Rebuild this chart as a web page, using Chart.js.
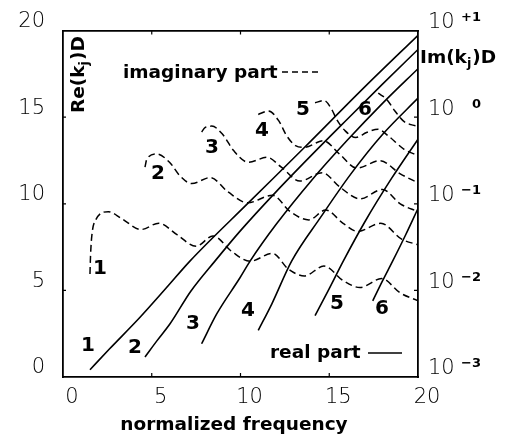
<!DOCTYPE html>
<html>
<head>
<meta charset="utf-8">
<script src="https://cdn.jsdelivr.net/npm/chart.js@4"></script>
<style>
  html, body { margin: 0; padding: 0; background: #fff; }
  #chart { display: block; }
</style>
</head>
<body>
<canvas id="chart" width="505" height="441"></canvas>
<script>
// axis ticks
const freq_ticks = [0, 5, 10, 15, 20];
const re_ticks = [0, 5, 10, 15, 20];
const im_ticks = [0.001, 0.01, 0.1, 1, 10];
const im_tick_powers = ['\u22123', '\u22122', '\u22121', '0', '+1'];

// real part Re(k_j)D of each mode, [normalized frequency, value]
const real_1 = [[1.52, 0.42], [2.6, 1.6], [4.34, 3.45], [5.8, 5.12], [7.15, 6.69], [10.44, 10.05], [13.6, 13.25], [17.0, 16.75], [20, 19.73]];
const real_2 = [[4.62, 1.16], [5.3, 2.1], [6.03, 3.07], [7.2, 4.95], [8.56, 6.69], [10, 8.45], [12, 10.69], [14, 12.81], [16, 14.87], [18, 16.91], [20, 18.91]];
const real_3 = [[7.81, 1.92], [8.66, 3.64], [9.97, 5.73], [10.54, 6.69], [12, 8.8], [14, 11.35], [16, 13.65], [18, 15.8], [20, 17.8]];
const real_4 = [[11.0, 2.69], [11.76, 4.21], [12.88, 6.69], [14.5, 9.2], [16.2, 11.7], [18.0, 14.0], [20, 16.1]];
const real_5 = [[14.2, 3.54], [15.0, 5.1], [15.79, 6.69], [17.0, 8.95], [18.5, 11.45], [20, 13.73]];
const real_6 = [[17.45, 4.4], [18.0, 5.55], [18.57, 6.69], [19.3, 8.2], [20, 9.73]];

// imaginary part Im(k_j)D of each mode, [normalized frequency, value]
const imag_1 = [[1.52, 0.0155], [1.55, 0.0248], [1.62, 0.042], [1.85, 0.0656], [2.55, 0.0811], [3.3, 0.0675], [4.4, 0.0505], [5.4, 0.0598], [6.4, 0.0443], [7.5, 0.0323], [8.45, 0.0426], [9.5, 0.0282], [10.54, 0.0217], [11.8, 0.0268], [12.7, 0.0176], [13.6, 0.0147], [14.7, 0.0191], [15.8, 0.0129], [16.73, 0.0108], [17.95, 0.0137], [19.0, 0.00935], [20, 0.00759]];
const imag_2 = [[4.62, 0.265], [4.72, 0.327], [5.28, 0.376], [6.0, 0.302], [6.6, 0.209], [7.25, 0.171], [8.3, 0.201], [9.3, 0.137], [10.4, 0.1026], [11.8, 0.1256], [12.8, 0.0811], [13.85, 0.0652], [14.8, 0.0847], [15.8, 0.059], [16.6, 0.0479], [17.9, 0.0596], [19.1, 0.0388], [20, 0.0337]];
const imag_3 = [[7.81, 0.675], [8.0, 0.759], [8.38, 0.789], [9.0, 0.631], [9.6, 0.414], [10.44, 0.302], [11.5, 0.344], [12.3, 0.265], [13.35, 0.183], [14.6, 0.229], [15.6, 0.156], [16.73, 0.114], [18.0, 0.1466], [19.0, 0.1], [20, 0.0811]];
const imag_4 = [[11.0, 1.076], [11.57, 1.178], [12.15, 0.912], [12.6, 0.61], [13.1, 0.47], [13.6, 0.448], [14.66, 0.535], [15.6, 0.372], [16.55, 0.258], [17.86, 0.315], [19.0, 0.222], [20, 0.175]];
const imag_5 = [[14.2, 1.466], [14.7, 1.563], [15.14, 1.23], [15.42, 0.944], [15.9, 0.695], [16.5, 0.583], [17.1, 0.665], [17.75, 0.726], [18.3, 0.615], [19.2, 0.429], [20, 0.36]];
const imag_6 = [[17.76, 1.9], [18.24, 1.6], [18.7, 1.18], [19.17, 0.906], [19.6, 0.82], [20, 0.79]];

const real_parts = [real_1, real_2, real_3, real_4, real_5, real_6];
const imag_parts = [imag_1, imag_2, imag_3, imag_4, imag_5, imag_6];
const mode_names = ['1', '2', '3', '4', '5', '6'];

// where the mode numbers sit, in (frequency, Re) units
const real_label_spots = [[1.41, 1.83], [4.06, 1.71], [7.32, 3.09], [10.42, 3.83], [15.44, 4.23], [17.97, 3.94]];
const imag_label_spots = [[2.08, 6.23], [5.35, 11.71], [8.39, 13.26], [11.21, 14.23], [13.52, 15.43], [17.01, 15.43]];

const thin_font = { family: "'DejaVu Sans'", size: 21, weight: '200' };
const bold_font = "bold 18.5px 'DejaVu Sans'";
const thin_css = "200 21px 'DejaVu Sans'";
const frame_border = { display: true, color: '#000', width: 1.8 };

let datasets = [];
real_parts.forEach((points, i) => {
  datasets.push({
    label: 'Re ' + mode_names[i],
    data: points,
    yAxisID: 'y',
    borderColor: '#000',
    borderWidth: 1.6,
    tension: 0.4,
    cubicInterpolationMode: 'monotone',
    pointRadius: 0
  });
});
imag_parts.forEach((points, i) => {
  datasets.push({
    label: 'Im ' + mode_names[i],
    data: points,
    yAxisID: 'yIm',
    borderColor: '#000',
    borderWidth: 1.5,
    borderDash: [7, 4],
    tension: 0.4,
    cubicInterpolationMode: 'monotone',
    pointRadius: 0
  });
});

// draws text with a subscript j, e.g. Re(k_j)D
function draw_sub_text(ctx, before, sub, after, x, y) {
  ctx.font = bold_font;
  ctx.fillText(before, x, y);
  x += ctx.measureText(before).width;
  ctx.font = "bold 13px 'DejaVu Sans'";
  ctx.fillText(sub, x, y + 4);
  x += ctx.measureText(sub).width + 1;
  ctx.font = bold_font;
  ctx.fillText(after, x, y);
}

const notes_plugin = {
  id: 'notes',
  afterDraw(chart) {
    const ctx = chart.ctx;
    const sx = chart.scales.x, sy = chart.scales.y, sim = chart.scales.yIm;
    const x_left = sx.getPixelForValue(0), x_right = sx.getPixelForValue(20);
    const y_top = sy.getPixelForValue(20), y_bottom = sy.getPixelForValue(0);
    ctx.save();
    ctx.fillStyle = '#000';
    ctx.strokeStyle = '#000';

    // small inward tick marks on the box
    ctx.lineWidth = 1.2;
    ctx.beginPath();
    freq_ticks.slice(1, -1).forEach(v => {
      const px = sx.getPixelForValue(v);
      ctx.moveTo(px, y_bottom); ctx.lineTo(px, y_bottom - 4);
      ctx.moveTo(px, y_top); ctx.lineTo(px, y_top + 4);
    });
    re_ticks.slice(1, -1).forEach(v => {
      const py = sy.getPixelForValue(v);
      ctx.moveTo(x_left, py); ctx.lineTo(x_left + 3, py);
    });
    im_ticks.slice(1, -1).forEach(v => {
      const py = sim.getPixelForValue(v);
      ctx.moveTo(x_right, py); ctx.lineTo(x_right - 4, py);
    });
    ctx.stroke();

    // right axis: powers of ten
    im_ticks.forEach((v, i) => {
      const py = sim.getPixelForValue(v);
      ctx.font = thin_css;
      ctx.textAlign = 'left';
      ctx.textBaseline = 'middle';
      ctx.fillText('10', x_right + 10, py - 8);
      ctx.font = "bold 13px 'DejaVu Sans'";
      ctx.textAlign = 'right';
      ctx.fillText(im_tick_powers[i], x_right + 63, py - 13);
    });

    // mode numbers
    ctx.font = "bold 20px 'DejaVu Sans'";
    ctx.textAlign = 'center';
    ctx.textBaseline = 'middle';
    real_label_spots.concat(imag_label_spots).forEach((p, i) => {
      ctx.fillText(mode_names[i % 6], sx.getPixelForValue(p[0]), sy.getPixelForValue(p[1]));
    });

    // axis titles
    ctx.textBaseline = 'alphabetic';
    ctx.font = bold_font;
    ctx.fillText('normalized frequency', 234, 430);
    ctx.textAlign = 'left';
    draw_sub_text(ctx, 'Im(k', 'j', ')D', x_right + 2, 63);
    ctx.save();
    ctx.translate(84, 113);
    ctx.rotate(-Math.PI / 2);
    draw_sub_text(ctx, 'Re(k', 'j', ')D', 0, 0);
    ctx.restore();

    // key for the two line styles
    ctx.font = bold_font;
    ctx.fillText('imaginary part', 123, 78);
    ctx.fillText('real part', 270, 358);
    ctx.lineWidth = 1.5;
    ctx.beginPath();
    ctx.setLineDash([6, 4]);
    ctx.moveTo(282, 72); ctx.lineTo(320, 72);
    ctx.stroke();
    ctx.beginPath();
    ctx.setLineDash([]);
    ctx.moveTo(368, 353); ctx.lineTo(402, 353);
    ctx.stroke();

    ctx.restore();
  }
};

const chart = new Chart(document.getElementById('chart').getContext('2d'), {
  type: 'line',
  data: { datasets: datasets },
  options: {
    responsive: false,
    animation: false,
    devicePixelRatio: 1,
    layout: { padding: 0 },
    plugins: { legend: { display: false }, tooltip: { enabled: false } },
    scales: {
      x: {
        type: 'linear', min: 0, max: 20,
        grid: { display: false, drawTicks: false },
        border: frame_border,
        ticks: { stepSize: 5, autoSkip: false, padding: 8, labelOffset: 9, color: '#000', font: thin_font, maxRotation: 0 },
        afterFit: s => { s.height = 64; }
      },
      // top edge of the box
      xTop: {
        type: 'linear', position: 'top', min: 0, max: 20,
        grid: { display: false, drawTicks: false },
        border: frame_border,
        ticks: { display: false },
        afterFit: s => { s.height = 27; }
      },
      y: {
        type: 'linear', position: 'left', min: 0, max: 20,
        grid: { display: false, drawTicks: false },
        border: frame_border,
        ticks: { stepSize: 5, autoSkip: false, padding: 18, labelOffset: -9, color: '#000', font: thin_font },
        afterFit: s => { s.width = 63; }
      },
      yIm: {
        type: 'logarithmic', position: 'right', min: 0.001, max: 10,
        grid: { display: false, drawTicks: false },
        border: frame_border,
        ticks: { display: false },
        afterFit: s => { s.width = 87; }
      }
    }
  },
  plugins: [notes_plugin]
});
</script>
</body>
</html>
